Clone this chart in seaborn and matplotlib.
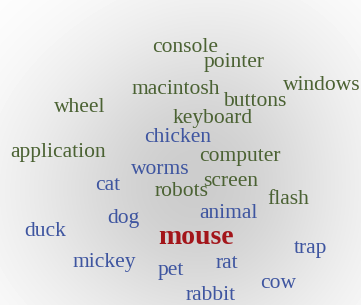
import matplotlib
matplotlib.use('Agg')
import matplotlib.pyplot as plt
import seaborn as sns
import pandas as pd

sns.set_style('white')
plt.rcParams['font.family'] = ['Liberation Serif', 'DejaVu Serif']

# word cloud data: word, position (pixel space), group
words = ['console', 'pointer', 'windows', 'macintosh', 'buttons', 'wheel',
         'keyboard', 'chicken', 'application', 'computer', 'worms', 'cat',
         'robots', 'screen', 'flash', 'dog', 'animal', 'duck', 'mouse',
         'trap', 'mickey', 'rat', 'pet', 'cow', 'rabbit']
xs = [185, 234, 322, 176, 255, 80, 213, 178, 58, 240, 160, 108,
      182, 231, 288, 123, 228, 45, 196, 310, 104, 227, 171, 278, 211]
ys = [47, 62, 85, 89, 101, 107, 118, 137, 152, 156, 170, 185,
      191, 181, 199, 219, 214, 232, 237, 249, 262, 264, 270, 283, 295]
groups = ['computer', 'computer', 'computer', 'computer', 'computer', 'computer',
          'computer', 'animal', 'computer', 'computer', 'animal', 'animal',
          'computer', 'computer', 'computer', 'animal', 'animal', 'animal', 'query',
          'animal', 'animal', 'animal', 'animal', 'animal', 'animal']

colors = {'computer': '#4b6233', 'animal': '#3e55a0', 'query': '#a3151a'}

df = pd.DataFrame({'word': words, 'x': xs, 'y': ys, 'group': groups})

fig = plt.figure(figsize=(3.61, 3.05), dpi=100)
ax = fig.add_axes([0, 0, 1, 1])

# gray density cloud behind the words
cloud = sns.blend_palette(['#ffffff', '#e6e6e6', '#cdcdcd'], as_cmap=True)
sns.kdeplot(data=df, x='x', y='y', fill=True, cmap=cloud, levels=50,
            thresh=0.02, bw_adjust=2.0, antialiased=False, ax=ax)

for _, r in df.iterrows():
    big = r['group'] == 'query'
    ax.text(r['x'], r['y'], r['word'], ha='center', va='center',
            color=colors[r['group']], fontsize=20 if big else 15.5,
            fontweight='bold' if big else 'normal')

ax.set_xlim(0, 361)
ax.set_ylim(305, 0)
ax.axis('off')
fig.savefig('out.png', dpi=100)
